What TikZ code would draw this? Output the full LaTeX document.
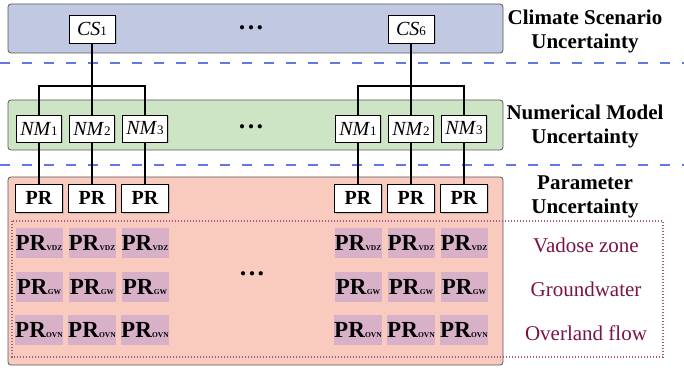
\documentclass[tikz,border=0pt]{standalone}
\usepackage{fontspec}
\setmainfont{Liberation Serif}
\usetikzlibrary{positioning,shadows,calc}

\definecolor{csblue}{RGB}{193,200,225}
\definecolor{nmgreen}{RGB}{205,229,196}
\definecolor{prpink}{RGB}{248,203,190}
\definecolor{cellpurple}{RGB}{216,177,200}
\definecolor{framepurple}{RGB}{170,85,135}
\definecolor{zonetxt}{RGB}{122,20,70}
\definecolor{sepblue}{RGB}{100,120,225}

\newcommand{\varidx}[2]{\textit{#1}{\fontsize{13}{13}\selectfont #2}}
\newcommand{\prsub}[1]{\textbf{PR}{\fontsize{7.5}{7.5}\selectfont\textbf{#1}}}

\begin{document}
\begin{tikzpicture}[
  x=1pt, y=-1pt,
  band/.style={draw=black!65, rounded corners=3pt, line width=0.8pt},
  wbox/.style={draw=black, fill=white, line width=0.8pt, inner sep=0pt,
               minimum width=46pt, minimum height=28pt, font=\fontsize{20}{22}\selectfont,
               drop shadow={shadow xshift=1.5pt, shadow yshift=-1.5pt, opacity=0.35}},
  cell/.style={fill=cellpurple, inner sep=0pt, minimum width=47pt, minimum height=30pt,
               font=\fontsize{23}{24}\selectfont},
  conn/.style={draw=black, line width=1.1pt},
  sep/.style={draw=sepblue, line width=1.1pt, dash pattern=on 10pt off 12pt},
  frame/.style={draw=framepurple, line width=1.2pt, dash pattern=on 1.2pt off 1.8pt},
  dotsnode/.style={font=\fontsize{26}{26}\selectfont\bfseries, inner sep=0pt},
  ulabel/.style={font=\fontsize{21}{24}\selectfont\bfseries, align=center, inner sep=0pt},
  zlabel/.style={font=\fontsize{21}{24}\selectfont, text=zonetxt, anchor=base, inner sep=0pt},
]
\useasboundingbox (0,0) rectangle (684,371);
\def\S{319}     % right block x-offset

% ============================== bands ==============================
\path[band, fill=csblue]  (8,4)   rectangle (503,53);
\path[band, fill=nmgreen] (8,100) rectangle (503,150);
\path[band, fill=prpink]  (8,177) rectangle (503,365);

% dashed separators
\coordinate (sepA1) at (0,63);  \coordinate (sepA2) at (684,63);
\coordinate (sepB1) at (0,165); \coordinate (sepB2) at (684,165);
\draw[sep] (sepA1) -- (sepA2);
\draw[sep] (sepB1) -- (sepB2);

% dotted frame round the parameter groups
\draw[frame] (12,221) rectangle (663,357);

% ============================== scenarios ==============================
\node[wbox] (cs1) at (92,29)    {\varidx{CS}{1}};
\node[wbox] (cs6) at (92+\S,29) {\varidx{CS}{6}};

% ============================== models & parameters ==============================
\foreach \b/\o in {A/0,B/\S}{
  \foreach \k in {1,2,3}{
    \pgfmathsetmacro{\x}{\o-14+53*\k}
    \node[wbox, minimum width=45pt, minimum height=27pt] (nm\b\k) at (\x,128.5) {\varidx{NM}{\k}};
    \node[wbox, minimum width=47pt] (pr\b\k) at (\x,198) {\textbf{PR}};
    \node[cell] (vdz\b\k) at (\x,243) {\prsub{VDZ}};
    \node[cell] (gw\b\k)  at (\x,287) {\prsub{GW}};
    \node[cell] (ovn\b\k) at (\x,330) {\prsub{OVN}};
    \draw[conn] (nm\b\k) -- (pr\b\k);
  }
}

% tree from each scenario to its models
\coordinate (bar) at (0,86);
\foreach \k in {1,2,3}{
  \draw[conn] (cs1.south) -- (cs1.south |- bar) -| (nmA\k.north);
  \draw[conn] (cs6.south) -- (cs6.south |- bar) -| (nmB\k.north);
}

% ============================== ellipses ==============================
\node[dotsnode] (dotsCS) at (251,28)  {.\kern2.5pt.\kern2.5pt.};
\node[dotsnode] (dotsNM) at (251,127) {.\kern2.5pt.\kern2.5pt.};
\node[dotsnode] (dotsPR) at (252,274) {.\kern2.5pt.\kern2.5pt.};

% ============================== labels ==============================
\node[ulabel] (lblCS) at (585,31)  {Climate Scenario\\Uncertainty};
\node[ulabel] (lblNM) at (585,126) {Numerical Model\\Uncertainty};
\node[ulabel] (lblPR) at (585,197) {Parameter\\Uncertainty};

\node[zlabel] (lblVDZ) at (586,252) {Vadose zone};
\node[zlabel] (lblGW)  at (586,296) {Groundwater};
\node[zlabel] (lblOVN) at (586,340) {Overland flow};
\end{tikzpicture}
\end{document}
